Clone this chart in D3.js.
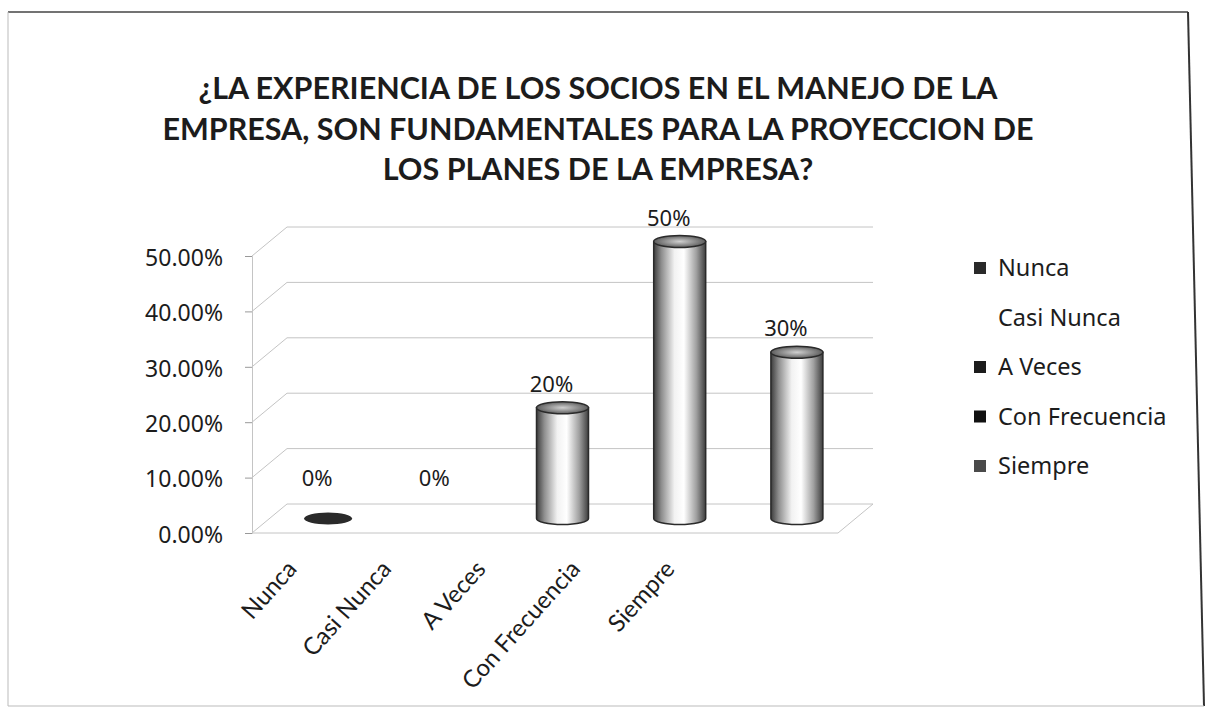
<!DOCTYPE html>
<meta charset="utf-8">
<html lang="es">
<head>
	<title>Experiencia de los socios</title>
	<script src="https://d3js.org/d3.v7.min.js" charset="utf-8"></script>
	<style>
		body { margin: 0; background: #fff; }
		text { fill: #1c1c1c; }
	</style>
</head>
<body>
	<script>
// datos
var categorias = ["Nunca", "Casi Nunca", "A Veces", "Con Frecuencia", "Siempre"];
var valores = [0, 0, 0.20, 0.50, 0.30];
var etiquetas = ["0%", "0%", "20%", "50%", "30%"];
var colores = ["#2a2a2a", "#ffffff", "#1c1c1c", "#111111", "#4a4a4a"];
var ticksY = [0, 0.1, 0.2, 0.3, 0.4, 0.5];
var titulo = [
  "¿LA EXPERIENCIA DE LOS SOCIOS EN EL MANEJO DE LA",
  "EMPRESA, SON FUNDAMENTALES PARA LA PROYECCION DE",
  "LOS PLANES DE LA EMPRESA?"
];

var width = 1213,
    height = 727;

// profundidad del grafico 3D
var depthX = 35, depthY = -29;

var svg = d3.select("body").append("svg")
    .attr("width", width)
    .attr("height", height);

// marco escaneado
svg.append("line").attr("x1", 8).attr("y1", 12).attr("x2", 1188).attr("y2", 12)
    .attr("stroke", "#444").attr("stroke-width", 1.5);
svg.append("line").attr("x1", 1188).attr("y1", 12).attr("x2", 1204).attr("y2", 706)
    .attr("stroke", "#333").attr("stroke-width", 2);
svg.append("line").attr("x1", 8).attr("y1", 12).attr("x2", 8).attr("y2", 706)
    .attr("stroke", "#bbb").attr("stroke-width", 1);
svg.append("line").attr("x1", 8).attr("y1", 706).attr("x2", 1204).attr("y2", 706)
    .attr("stroke", "#bbb").attr("stroke-width", 1);

// titulo
svg.append("g").selectAll("text")
    .data(titulo)
  .enter().append("text")
    .attr("x", 598)
    .attr("y", function(d, i) { return 99 + i * 40.5; })
    .attr("text-anchor", "middle")
    .style("font-family", "Lato, sans-serif")
    .style("font-weight", "bold")
    .style("font-size", "30.5px")
    .text(function(d) { return d; });

var x = d3.scaleBand()
    .domain(categorias)
    .range([252, 838]);

var y = d3.scaleLinear()
    .domain([0, 0.5])
    .range([533, 256]);

// posiciones de las etiquetas de categoria
var xLab = d3.scalePoint()
    .domain(categorias)
    .range([298, 676]);

// paredes y lineas de cuadricula
var grid = svg.append("g")
    .attr("stroke", "#c4c4c4")
    .attr("stroke-width", 1)
    .attr("fill", "none");

grid.selectAll(".back")
    .data(ticksY)
  .enter().append("line")
    .attr("x1", x.range()[0] + depthX)
    .attr("x2", x.range()[1] + depthX)
    .attr("y1", function(d) { return y(d) + depthY; })
    .attr("y2", function(d) { return y(d) + depthY; });

grid.selectAll(".side")
    .data(ticksY)
  .enter().append("line")
    .attr("x1", x.range()[0])
    .attr("x2", x.range()[0] + depthX)
    .attr("y1", function(d) { return y(d); })
    .attr("y2", function(d) { return y(d) + depthY; });

grid.append("line")
    .attr("x1", x.range()[0]).attr("x2", x.range()[1])
    .attr("y1", y(0)).attr("y2", y(0));
grid.append("line")
    .attr("x1", x.range()[1]).attr("x2", x.range()[1] + depthX)
    .attr("y1", y(0)).attr("y2", y(0) + depthY);

// eje Y
var ejeY = svg.append("g")
    .attr("transform", "translate(" + x.range()[0] + ",0)")
    .call(d3.axisLeft(y)
      .tickValues(ticksY)
      .tickFormat(d3.format(".2%"))
      .tickSize(7)
      .tickPadding(22));

ejeY.select(".domain").attr("stroke", "#c4c4c4");
ejeY.selectAll(".tick line").attr("stroke", "#999");
ejeY.selectAll(".tick text")
    .attr("dy", "0.4em")
    .style("font-family", "'Noto Sans', sans-serif")
    .style("font-size", "23px")
    .style("fill", "#1c1c1c");

// etiquetas de categoria
svg.append("g").selectAll("text")
    .data(categorias)
  .enter().append("text")
    .attr("transform", function(d) {
      return "translate(" + xLab(d) + ",570) rotate(-48)";
    })
    .attr("text-anchor", "end")
    .style("font-family", "Lato, sans-serif")
    .style("font-size", "24px")
    .text(function(d) { return d; });

// degradado de los cilindros
var defs = svg.append("defs");
var grad = defs.append("linearGradient")
    .attr("id", "cilindro")
    .attr("x1", "0%").attr("x2", "100%")
    .attr("y1", "0%").attr("y2", "0%");
[["0%", "#3c3c3c"], ["15%", "#8e8e8e"], ["40%", "#f2f2f2"], ["58%", "#ffffff"],
 ["82%", "#a0a0a0"], ["100%", "#3e3e3e"]].forEach(function(s) {
  grad.append("stop").attr("offset", s[0]).attr("stop-color", s[1]);
});
var gradTop = defs.append("radialGradient")
    .attr("id", "tapa");
gradTop.append("stop").attr("offset", "0%").attr("stop-color", "#d0d0d0");
gradTop.append("stop").attr("offset", "100%").attr("stop-color", "#5e5e5e");

var radio = 26, ry = 6;
function centro(d) { return x(d) + x.bandwidth() / 2 + depthX / 2; }
function yMedio(v) { return y(v) + depthY / 2; }

var barras = svg.append("g").selectAll("g")
    .data(categorias)
  .enter().append("g");

barras.each(function(c, i) {
  var g = d3.select(this);
  var cx = centro(c), base = yMedio(0), tope = yMedio(valores[i]);
  if (valores[i] === 0) {
    g.append("ellipse")
      .attr("cx", cx).attr("cy", base)
      .attr("rx", radio - 2).attr("ry", ry)
      .attr("fill", colores[i]);
    return;
  }
  g.append("path")
    .attr("d", "M" + (cx - radio) + "," + tope +
      "L" + (cx - radio) + "," + base +
      "A" + radio + "," + ry + " 0 0 0 " + (cx + radio) + "," + base +
      "L" + (cx + radio) + "," + tope + "Z")
    .attr("fill", "url(#cilindro)")
    .attr("stroke", "#2a2a2a")
    .attr("stroke-width", 1.5);
  g.append("ellipse")
    .attr("cx", cx).attr("cy", tope)
    .attr("rx", radio).attr("ry", ry)
    .attr("fill", "url(#tapa)")
    .attr("stroke", "#2a2a2a")
    .attr("stroke-width", 1.5);
});

// etiquetas de datos
svg.append("g").selectAll("text")
    .data(categorias)
  .enter().append("text")
    .attr("x", function(d) { return centro(d) - 11; })
    .attr("y", function(d, i) { return Math.min(yMedio(valores[i]) - 16, 486); })
    .attr("text-anchor", "middle")
    .style("font-family", "'Noto Sans', sans-serif")
    .style("font-size", "22px")
    .text(function(d, i) { return etiquetas[i]; });

// leyenda
var leyenda = svg.append("g").selectAll("g")
    .data(categorias)
  .enter().append("g")
    .attr("transform", function(d, i) { return "translate(974," + (268 + i * 49.5) + ")"; });

leyenda.append("rect")
    .attr("x", 0).attr("y", -6)
    .attr("width", 12).attr("height", 12)
    .attr("fill", function(d, i) { return colores[i]; });

leyenda.append("text")
    .attr("x", 24)
    .attr("dy", "0.36em")
    .style("font-family", "'Noto Sans', sans-serif")
    .style("font-size", "23.5px")
    .text(function(d) { return d; });
	</script>
</body>
</html>
